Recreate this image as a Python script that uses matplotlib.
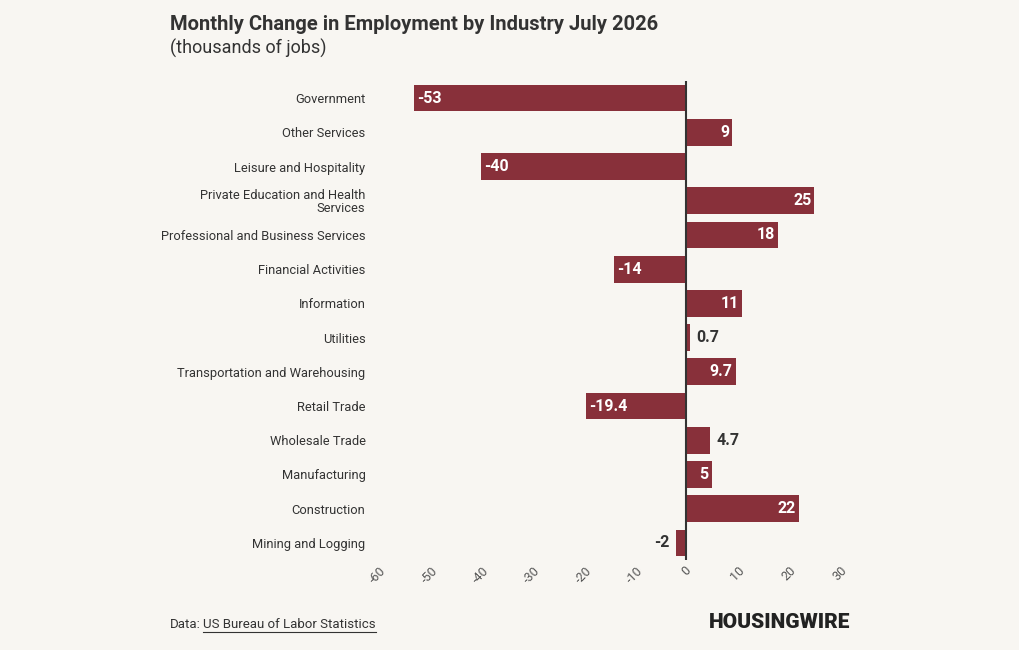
import matplotlib
matplotlib.use("Agg")
import matplotlib.pyplot as plt

categories = ["Government","Other Services","Leisure and Hospitality","Private Education and Health\nServices",
              "Professional and Business Services","Financial Activities","Information","Utilities",
              "Transportation and Warehousing","Retail Trade","Wholesale Trade","Manufacturing","Construction","Mining and Logging"]
values = [-53, 9, -40, 25, 18, -14, 11, 0.7, 9.7, -19.4, 4.7, 5, 22, -2]
labels = ["-53","9","-40","25","18","-14","11","0.7","9.7","-19.4","4.7","5","22","-2"]
ticks = [-60,-50,-40,-30,-20,-10,0,10,20,30]

BG = "#f8f6f2"; BAR = "#88303a"; DARK = "#333333"
plt.rcParams['font.family'] = ['Roboto', 'DejaVu Sans']
fig = plt.figure(figsize=(10.2, 6.5), dpi=100, facecolor=BG)
ax = fig.add_axes([378/1020, 1-560/650, 462/1020, 479/650], facecolor=BG)
n = len(categories)
ys = list(range(n))
ax.barh(ys, values, height=0.78, color=BAR)
ax.set_ylim(n-0.5, -0.5)
ax.set_xlim(-60, 30)
ax.axvline(0, color=DARK, lw=1.5)
for y, v, l in zip(ys, values, labels):
    if abs(v) >= 5:
        ax.text(v + (-0.6 if v > 0 else 0.6), y, l, ha="right" if v > 0 else "left", va="center",
                color="white", fontsize=11.5, fontweight="bold")
    else:
        ax.text(v + (1.2 if v > 0 else -1.2), y, l, ha="left" if v > 0 else "right", va="center",
                color=DARK, fontsize=11.5, fontweight="bold")
ax.set_yticks(ys)
ax.set_yticklabels(categories, fontsize=9.3, color=DARK, linespacing=1.0)
ax.set_xticks(ticks)
ax.set_xticklabels([str(t) for t in ticks], rotation=45, fontsize=9, color="#555555", ha="center")
ax.tick_params(length=0, pad=3)
ax.tick_params(axis="y", pad=9)
for s in ax.spines.values():
    s.set_visible(False)
fig.text(170/1020, 1-25/650, "Monthly Change in Employment by Industry July 2026", fontsize=14.5,
         fontweight="bold", color=DARK, va="center")
fig.text(170/1020, 1-48/650, "(thousands of jobs)", fontsize=13, color=DARK, va="center")
fig.text(170/1020, 1-624/650, "Data:", fontsize=9.5, color=DARK, va="center")
t = fig.text(203/1020, 1-624/650, "US Bureau of Labor Statistics", fontsize=9.5, color=DARK, va="center")
fig.canvas.draw()
bb = t.get_window_extent()
fig.add_artist(plt.Line2D([bb.x0/1020, bb.x1/1020], [1-632/650]*2, color=DARK, lw=0.8))
fig.text(850/1020, 1-622/650, "HOUSINGWIRE", fontsize=15, fontweight="black", color="#222222",
         ha="right", va="center")
fig.savefig("out.png", dpi=100, facecolor=BG)
